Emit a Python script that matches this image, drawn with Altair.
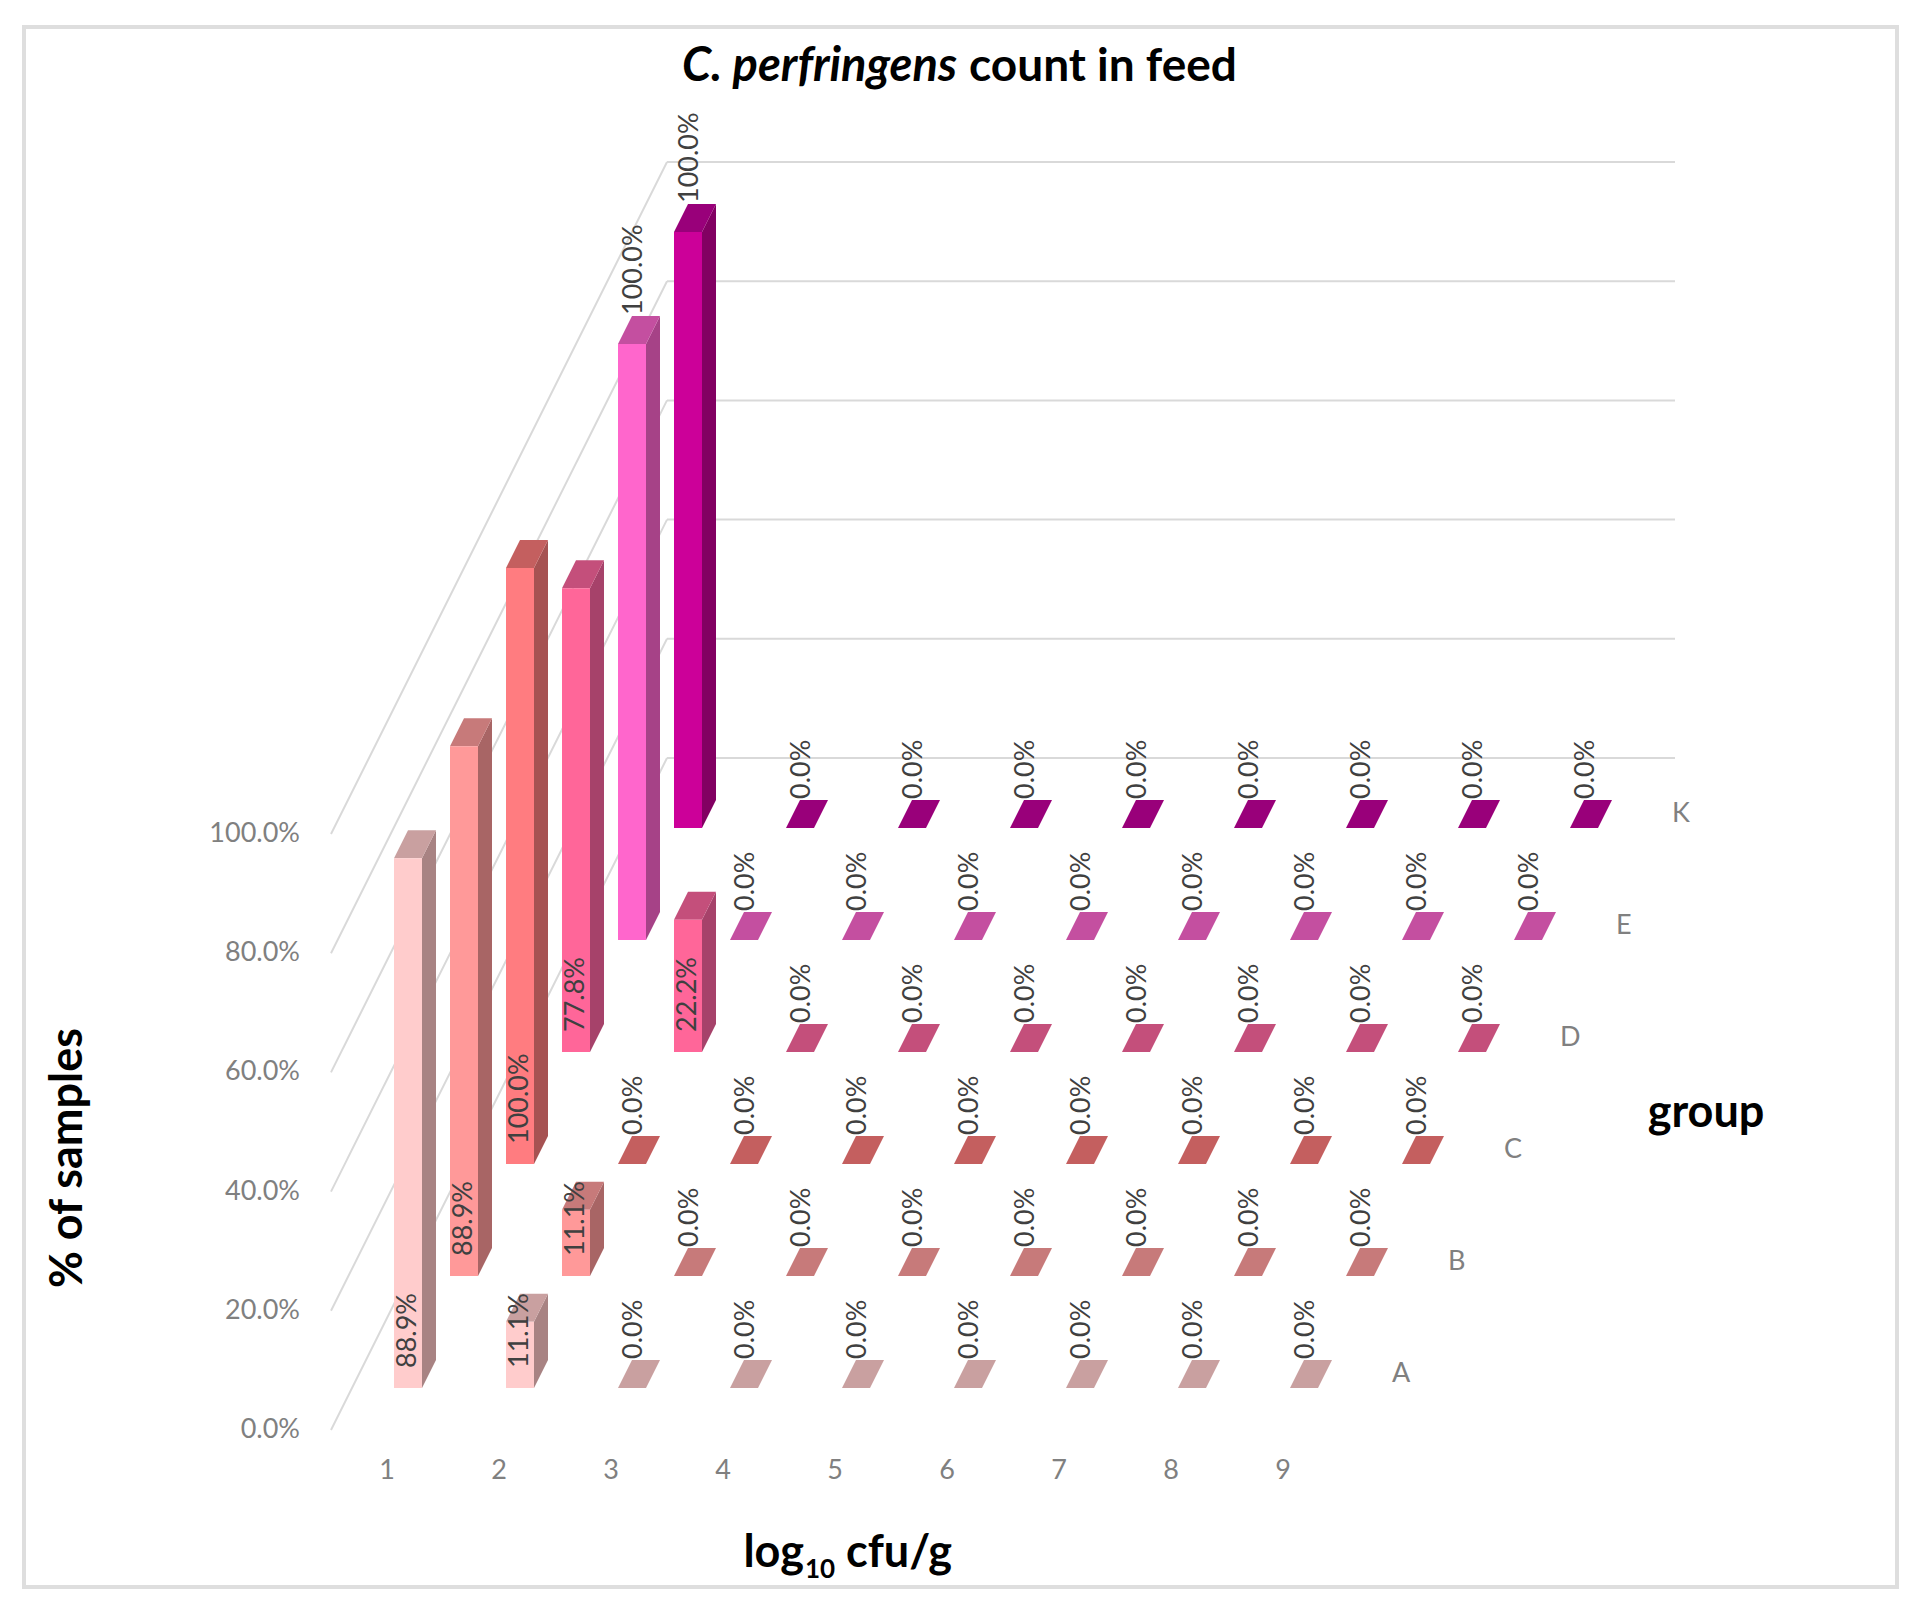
import altair as alt
import pandas as pd

# ---------------- data ----------------
groups = ["A", "B", "C", "D", "E", "K"]
categories = [1, 2, 3, 4, 5, 6, 7, 8, 9]
pct_A = [88.9, 11.1, 0.0, 0.0, 0.0, 0.0, 0.0, 0.0, 0.0]
pct_B = [88.9, 11.1, 0.0, 0.0, 0.0, 0.0, 0.0, 0.0, 0.0]
pct_C = [100.0, 0.0, 0.0, 0.0, 0.0, 0.0, 0.0, 0.0, 0.0]
pct_D = [77.8, 22.2, 0.0, 0.0, 0.0, 0.0, 0.0, 0.0, 0.0]
pct_E = [100.0, 0.0, 0.0, 0.0, 0.0, 0.0, 0.0, 0.0, 0.0]
pct_K = [100.0, 0.0, 0.0, 0.0, 0.0, 0.0, 0.0, 0.0, 0.0]
y_ticks = [0, 20, 40, 60, 80, 100]
y_tick_labels = ["0.0%", "20.0%", "40.0%", "60.0%", "80.0%", "100.0%"]
title_italic = "C. perfringens"
title_rest = "count in feed"
y_title = "% of samples"
x_title_parts = ["log", "10", "cfu/g"]
z_title = "group"

series = {"A": pct_A, "B": pct_B, "C": pct_C, "D": pct_D, "E": pct_E, "K": pct_K}

# ---------------- styles ----------------
front_col = {"A": "#FFCCCC", "B": "#FF9999", "C": "#FF7C80", "D": "#FF6699", "E": "#FF66CC", "K": "#CC0099"}
side_col = {"A": "#A88383", "B": "#A86565", "C": "#A65252", "D": "#A6426A", "E": "#A64287", "K": "#820062"}
top_col = {"A": "#C9A0A0", "B": "#C77A7A", "C": "#C45F5F", "D": "#C44F7B", "E": "#C44FA0", "K": "#99007A"}
inside_label_groups = ["A", "B", "C", "D"]
FONT = "Lato"

# ---------------- projection (oblique 3D) ----------------
X0, Y0 = 387.0, 1430.0     # category 1 centre, value 0, front of floor
CAT = 112.0                # px per category
RX, RY = 56.0, 112.0       # px per depth row
VS = 5.96                  # px per percent
BW = 28.0                  # bar front width
BD = 0.25                  # bar depth (rows)
FRONT = 0.375              # depth of front face inside a row
DX, DY = BD * RX, BD * RY


def proj(cpos, depth, value):
    return X0 + (cpos - 1) * CAT + depth * RX, Y0 - depth * RY - value * VS


rows = []
for r, g in enumerate(groups):
    for c, v in zip(categories, series[g]):
        xc, yb = proj(c, r + FRONT, 0)
        yt = yb - v * VS
        rows.append(dict(group=g, cat=c, value=v, depth=r, xc=xc, xl=xc - BW / 2,
                         xr=xc + BW / 2, yb=yb, yt=yt, id=f"{g}{c}",
                         fr=front_col[g], sd=side_col[g], tp=top_col[g]))
bars = pd.DataFrame(rows).sort_values(["depth", "cat"], ascending=[False, True])

side_rows, top_rows = [], []
for _, b in bars.iterrows():
    if b.value > 0:
        side_rows.append(dict(id=b.id, x=b.xr, ya=b.yt, yb2=b.yb, col=b.sd))
        side_rows.append(dict(id=b.id, x=b.xr + DX, ya=b.yt - DY, yb2=b.yb - DY, col=b.sd))
    top_rows.append(dict(id=b.id, y=b.yt, xa=b.xl, xb=b.xr, col=b.tp))
    top_rows.append(dict(id=b.id, y=b.yt - DY, xa=b.xl + DX, xb=b.xr + DX, col=b.tp))
sides = pd.DataFrame(side_rows)
tops = pd.DataFrame(top_rows)
fronts = bars[bars.value > 0]

lab_rows = []
for _, b in bars.iterrows():
    if b.value > 0 and b.group in inside_label_groups:
        lx, ly = b.xc, b.yb - 20
    else:
        lx, ly = b.xc + 2, b.yt - DY - 1
    lab_rows.append(dict(x=lx, y=ly, t=f"{b.value:.1f}%"))
labels = pd.DataFrame(lab_rows)

grid_rows = []
for v in y_ticks:
    x1, y1 = proj(0.5, 6, v)
    x2, y2 = proj(9.5, 6, v)
    grid_rows.append(dict(x=x1, y=y1, x2=x2, y2=y2))
    x0, y0 = proj(0.5, 0, v)
    grid_rows.append(dict(x=x0, y=y0, x2=x1, y2=y1))
grid = pd.DataFrame(grid_rows)

ytl = pd.DataFrame([dict(x=proj(0.5, 0, v)[0] - 31, y=proj(0.5, 0, v)[1], t=t)
                    for v, t in zip(y_ticks, y_tick_labels)])
xtl = pd.DataFrame([dict(x=proj(c, 0, 0)[0], y=proj(c, 0, 0)[1] + 41, t=str(c))
                    for c in categories])
gtl = pd.DataFrame([dict(x=proj(9.5, r + 0.5, 0)[0] + 25, y=proj(9.5, r + 0.5, 0)[1], t=g)
                    for r, g in enumerate(groups)])

# ---------------- scales (page pixel space) ----------------
L, T, R, B = 24, 27, 1897, 1587
xs = alt.Scale(domain=[L, R], nice=False, zero=False)
ys = alt.Scale(domain=[T, B], reverse=True, nice=False, zero=False)


def X(f):
    return alt.X(f, scale=xs, axis=None)


def Y(f):
    return alt.Y(f, scale=ys, axis=None)


grid_layer = alt.Chart(grid).mark_rule(color="#D9D9D9", strokeWidth=2).encode(
    x=X("x:Q"), y=Y("y:Q"), x2="x2:Q", y2="y2:Q")

side_layer = alt.Chart(sides).mark_area(orient="vertical", interpolate="linear").encode(
    x=X("x:Q"), y=alt.Y("ya:Q", scale=ys, axis=None, stack=None), y2="yb2:Q",
    detail="id:N", color=alt.Color("col:N", scale=None))

top_layer = alt.Chart(tops).mark_area(orient="horizontal", interpolate="linear").encode(
    y=Y("y:Q"), x=alt.X("xa:Q", scale=xs, axis=None, stack=None), x2="xb:Q",
    detail="id:N", color=alt.Color("col:N", scale=None))

front_layer = alt.Chart(fronts).mark_rect().encode(
    x=X("xl:Q"), x2="xr:Q", y=Y("yt:Q"), y2="yb:Q",
    color=alt.Color("fr:N", scale=None))

label_layer = alt.Chart(labels).mark_text(
    angle=270, align="left", baseline="middle", font=FONT, fontSize=27, color="#404040"
).encode(x=X("x:Q"), y=Y("y:Q"), text="t:N")

ytl_layer = alt.Chart(ytl).mark_text(
    align="right", baseline="middle", font=FONT, fontSize=27, color="#808080"
).encode(x=X("x:Q"), y=Y("y:Q"), text="t:N")

xtl_layer = alt.Chart(xtl).mark_text(
    align="center", baseline="middle", font=FONT, fontSize=27, color="#808080"
).encode(x=X("x:Q"), y=Y("y:Q"), text="t:N")

gtl_layer = alt.Chart(gtl).mark_text(
    align="left", baseline="middle", font=FONT, fontSize=27, color="#808080"
).encode(x=X("x:Q"), y=Y("y:Q"), text="t:N")

t1 = alt.Chart(pd.DataFrame([dict(x=957, y=81, t=title_italic)])).mark_text(
    align="right", baseline="alphabetic", font=FONT, fontSize=47, fontWeight="bold",
    fontStyle="italic", color="#000000").encode(x=X("x:Q"), y=Y("y:Q"), text="t:N")
t2 = alt.Chart(pd.DataFrame([dict(x=969, y=81, t=title_rest)])).mark_text(
    align="left", baseline="alphabetic", font=FONT, fontSize=46, fontWeight="bold",
    color="#000000").encode(x=X("x:Q"), y=Y("y:Q"), text="t:N")

yt_layer = alt.Chart(pd.DataFrame([dict(x=82, y=1158, t=y_title)])).mark_text(
    angle=270, align="center", baseline="alphabetic", font=FONT, fontSize=45,
    fontWeight="bold", color="#000000").encode(x=X("x:Q"), y=Y("y:Q"), text="t:N")

xt1 = alt.Chart(pd.DataFrame([dict(x=804, y=1567, t=x_title_parts[0])])).mark_text(
    align="right", baseline="alphabetic", font=FONT, fontSize=45, fontWeight="bold",
    color="#000000").encode(x=X("x:Q"), y=Y("y:Q"), text="t:N")
xt2 = alt.Chart(pd.DataFrame([dict(x=805, y=1578, t=x_title_parts[1])])).mark_text(
    align="left", baseline="alphabetic", font=FONT, fontSize=26, fontWeight="bold",
    color="#000000").encode(x=X("x:Q"), y=Y("y:Q"), text="t:N")
xt3 = alt.Chart(pd.DataFrame([dict(x=846, y=1567, t=x_title_parts[2])])).mark_text(
    align="left", baseline="alphabetic", font=FONT, fontSize=45, fontWeight="bold",
    color="#000000").encode(x=X("x:Q"), y=Y("y:Q"), text="t:N")

zt = alt.Chart(pd.DataFrame([dict(x=1706, y=1127, t=z_title)])).mark_text(
    align="center", baseline="alphabetic", font=FONT, fontSize=45, fontWeight="bold",
    color="#000000").encode(x=X("x:Q"), y=Y("y:Q"), text="t:N")

chart = alt.layer(
    grid_layer, side_layer, top_layer, front_layer,
    label_layer, ytl_layer, xtl_layer, gtl_layer,
    t1, t2, yt_layer, xt1, xt2, xt3, zt
).properties(
    width=R - L, height=B - T,
    padding={"left": 16, "top": 19, "right": 4, "bottom": 4},
    autosize=alt.AutoSizeParams(type="none"),
    background="#FFFFFF",
).configure_view(stroke="#DEDEDE", strokeWidth=4)

chart.save("out.html", embed_options={"renderer": "svg", "actions": False})
